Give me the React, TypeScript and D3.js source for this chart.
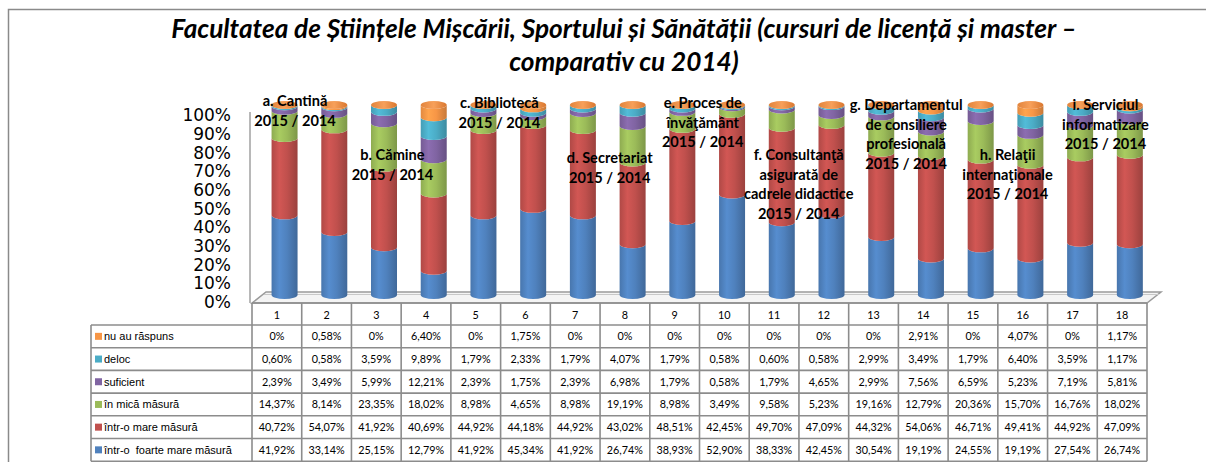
import React from "react";
import * as d3 from "d3";

const categories = ["1","2","3","4","5","6","7","8","9","10","11","12","13","14","15","16","17","18"];
const seriesNames = ["nu au răspuns", "deloc", "suficient", "în mică măsură", "într-o mare măsură", "într-o  foarte mare măsură"];
const seriesColors = ["#F79646", "#4BACC6", "#8064A2", "#9BBB59", "#C0504D", "#4F81BD"];
const nuAuRaspuns = [0, 0.58, 0, 6.40, 0, 1.75, 0, 0, 0, 0, 0, 0, 0, 2.91, 0, 4.07, 0, 1.17];
const deloc = [0.60, 0.58, 3.59, 9.89, 1.79, 2.33, 1.79, 4.07, 1.79, 0.58, 0.60, 0.58, 2.99, 3.49, 1.79, 6.40, 3.59, 1.17];
const suficient = [2.39, 3.49, 5.99, 12.21, 2.39, 1.75, 2.39, 6.98, 1.79, 0.58, 1.79, 4.65, 2.99, 7.56, 6.59, 5.23, 7.19, 5.81];
const inMicaMasura = [14.37, 8.14, 23.35, 18.02, 8.98, 4.65, 8.98, 19.19, 8.98, 3.49, 9.58, 5.23, 19.16, 12.79, 20.36, 15.70, 16.76, 18.02];
const intrOMareMasura = [40.72, 54.07, 41.92, 40.69, 44.92, 44.18, 44.92, 43.02, 48.51, 42.45, 49.70, 47.09, 44.32, 54.06, 46.71, 49.41, 44.92, 47.09];
const intrOFoarteMareMasura = [41.92, 33.14, 25.15, 12.79, 41.92, 45.34, 41.92, 26.74, 38.93, 52.90, 38.33, 42.45, 30.54, 19.19, 24.55, 19.19, 27.54, 26.74];
const yTicks = [0, 10, 20, 30, 40, 50, 60, 70, 80, 90, 100];
const titleLines = ["Facultatea de Științele Mișcării, Sportului și Sănătății (cursuri de licență și master –", "comparativ cu 2014)"];

// group annotations: category position (1-based, fractional) and top value (%)
const groupLabelLines = [
  ["a. Cantină", "2015 / 2014"],
  ["b. Cămine", "2015 / 2014"],
  ["c. Bibliotecă", "2015 / 2014"],
  ["d. Secretariat", "2015 / 2014"],
  ["e. Proces de", "învăţământ", "2015 / 2014"],
  ["f. Consultanţă", "asigurată de", "cadrele didactice", "2015 / 2014"],
  ["g. Departamentul", "de consiliere", "profesională", "2015 / 2014"],
  ["h. Relaţii", "internaţionale", "2015 / 2014"],
  ["i. Serviciul", "informatizare", "2015 / 2014"],
];
const groupLabelPos = [1.21, 3.17, 5.32, 7.54, 9.41, 11.34, 13.5, 15.54, 17.51];
const groupLabelTop = [102, 73.7, 101, 72, 101, 73.7, 100, 73.7, 100];

// rows of table, top to bottom (also stacking order reversed)
const tableSeries = [nuAuRaspuns, deloc, suficient, inMicaMasura, intrOMareMasura, intrOFoarteMareMasura];

const fmt = (v: number) => (v === 0 ? "0%" : v.toFixed(2).replace(".", ",") + "%");

export default function App() {
  const W = 1206, H = 462;
  const tableLeft = 91, colLeft = 252, colRight = 1147;
  const tableTop = 303, headerH = 22, rowH = 22.7;
  const x = d3.scaleBand<string>().domain(categories).range([colLeft, colRight]);
  const bw = x.bandwidth();
  const depthDx = 7.7;
  const yBar = d3.scaleLinear().domain([0, 100]).range([295, 105]);
  const yAxis = d3.scaleLinear().domain([0, 100]).range([302, 115]);
  const rx = 13, ry = 4;
  const floorDx = 14, floorDy = 11;

  // stacking bottom to top
  const stackOrder = [5, 4, 3, 2, 1, 0];
  const bars = categories.map((c, i) => {
    const total = d3.sum(tableSeries, (s) => s[i]);
    let acc = 0;
    const cx = (x(c) as number) + bw / 2 + depthDx;
    const segs = stackOrder.map((si) => {
      const v0 = acc;
      acc += (tableSeries[si][i] / total) * 100;
      return { si, v0, v1: acc };
    });
    return { c, cx, segs };
  });

  const segPath = (cx: number, y0: number, y1: number) => {
    const xl = cx - rx, xr = cx + rx;
    return `M${xl},${y1} A${rx},${ry} 0 0 0 ${xr},${y1} L${xr},${y0} A${rx},${ry} 0 0 1 ${xl},${y0} Z`;
  };

  const font = "Lato, 'DejaVu Sans', sans-serif";

  return (
    <svg width={W} height={H} style={{ position: "absolute", left: 0, top: 0 }}>
      <defs>
        {seriesColors.map((col, i) => {
          const c = d3.color(col)!;
          return (
            <linearGradient key={i} id={`g${i}`} x1="0" x2="1" y1="0" y2="0">
              <stop offset="0%" stopColor={c.darker(0.25).toString()} />
              <stop offset="30%" stopColor={c.brighter(0.25).toString()} />
              <stop offset="60%" stopColor={col} />
              <stop offset="100%" stopColor={c.darker(0.6).toString()} />
            </linearGradient>
          );
        })}
        <linearGradient id="cap" x1="0" x2="1" y1="0" y2="0">
          <stop offset="0%" stopColor="#e2843c" />
          <stop offset="50%" stopColor="#f7a05a" />
          <stop offset="100%" stopColor="#d9772f" />
        </linearGradient>
      </defs>
      <rect x={0} y={0} width={W} height={H} fill="#fff" />
      {/* outer frame */}
      <path d={`M8.5,${H} L8.5,9.5 L${W},9.5`} fill="none" stroke="#8a8a8a" strokeWidth={1.5} />

      {/* title */}
      {titleLines.map((t, i) => (
        <text key={i} x={624} y={38 + i * 33} textAnchor="middle" fontFamily={font} fontWeight="bold" fontStyle="italic" fontSize={26.2} fill="#000">
          {t}
        </text>
      ))}

      {/* y axis labels */}
      {yTicks.map((t) => (
        <text key={t} x={231} y={yAxis(t)} dy="0.36em" textAnchor="end" fontFamily="'DejaVu Sans', sans-serif" fontSize={17} fill="#000">
          {t}%
        </text>
      ))}

      {/* wall line and floor */}
      <line x1={250} x2={250} y1={yAxis(100) - 3} y2={tableTop} stroke="#a0a0a0" strokeWidth={1.5} />
      <path
        d={`M${colLeft},${tableTop} L${colLeft + floorDx},${tableTop - floorDy} L${colRight + floorDx},${tableTop - floorDy} L${colRight},${tableTop} Z`}
        fill="#f4f4f4"
        stroke="#9a9a9a"
        strokeWidth={1.5}
      />
      <line x1={colLeft + floorDx - 2} x2={colRight + floorDx - 2} y1={tableTop - floorDy + 2.5} y2={tableTop - floorDy + 2.5} stroke="#c8c8c8" strokeWidth={1} />

      {/* bars */}
      {bars.map((b) => {
        const top = b.segs[b.segs.length - 1];
        return (
          <g key={b.c}>
            {b.segs.map((s) =>
              s.v1 - s.v0 > 0.001 ? (
                <path key={s.si} d={segPath(b.cx, yBar(s.v0), yBar(s.v1))} fill={`url(#g${s.si})`} />
              ) : null
            )}
            <ellipse cx={b.cx} cy={yBar(top.v1)} rx={rx} ry={ry} fill="url(#cap)" />
          </g>
        );
      })}

      {/* group annotations */}
      {groupLabelLines.map((lines, gi) => {
        const cx = (x(categories[0]) as number) + bw / 2 + depthDx + (groupLabelPos[gi] - 1) * x.step();
        const y0 = yBar(groupLabelTop[gi]);
        return (
          <text key={gi} textAnchor="middle" fontFamily={font} fontWeight="bold" fontSize={14.6} fill="#000">
            {lines.map((l, li) => (
              <tspan key={li} x={cx} y={y0 + li * 19.5} dy="0.35em">
                {l}
              </tspan>
            ))}
          </text>
        );
      })}

      {/* data table */}
      <g>
        {/* header numbers */}
        {categories.map((c) => (
          <text key={c} x={(x(c) as number) + bw / 2} y={tableTop + headerH / 2 + 1} dy="0.35em" textAnchor="middle" fontFamily={font} fontSize={10.8} fill="#000">
            {c}
          </text>
        ))}
        {tableSeries.map((s, ri) => {
          const yc = tableTop + headerH + ri * rowH + rowH / 2;
          return (
            <g key={ri}>
              <rect x={95} y={yc - 3.5} width={7} height={7} fill={seriesColors[ri]} />
              <text x={104} y={yc} dy="0.35em" fontFamily="'Liberation Sans', Arial, sans-serif" fontSize={11} fill="#000" style={{ whiteSpace: "pre" }}>
                {seriesNames[ri]}
              </text>
              {categories.map((c, ci) => (
                <text key={c} x={(x(c) as number) + bw / 2} y={yc} dy="0.35em" textAnchor="middle" fontFamily={font} fontSize={10.8} fill="#000">
                  {fmt(s[ci])}
                </text>
              ))}
            </g>
          );
        })}
        {/* grid lines */}
        <g stroke="#8c8c8c" strokeWidth={1.6}>
          <line x1={colLeft} x2={colRight} y1={tableTop} y2={tableTop} />
          {d3.range(0, tableSeries.length + 1).map((r) => (
            <line key={r} x1={tableLeft} x2={colRight} y1={tableTop + headerH + r * rowH} y2={tableTop + headerH + r * rowH} />
          ))}
          <line x1={tableLeft} x2={tableLeft} y1={tableTop + headerH} y2={tableTop + headerH + 6 * rowH} />
          {categories.map((c) => (
            <line key={c} x1={x(c) as number} x2={x(c) as number} y1={tableTop} y2={tableTop + headerH + 6 * rowH} />
          ))}
          <line x1={colRight} x2={colRight} y1={tableTop} y2={tableTop + headerH + 6 * rowH} />
        </g>
      </g>
    </svg>
  );
}
